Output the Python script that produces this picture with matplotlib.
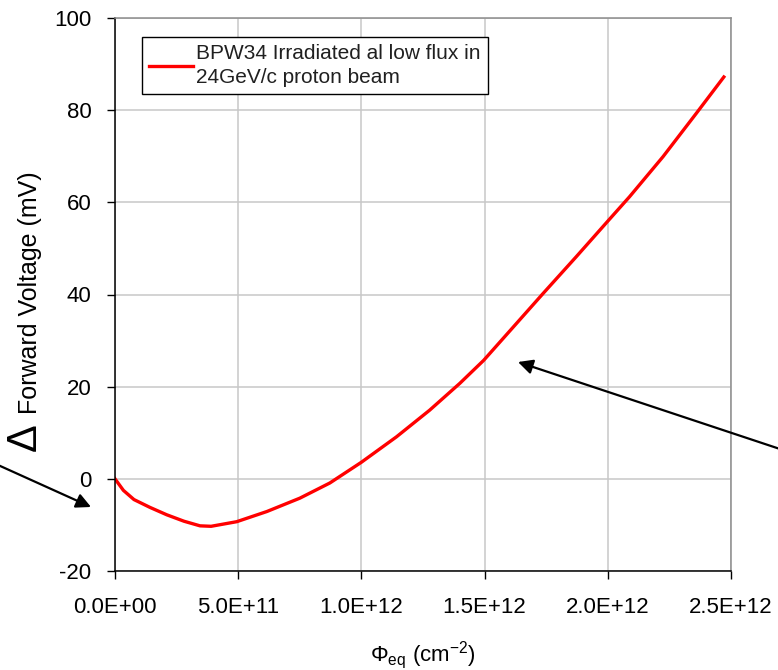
import numpy as np
import matplotlib.pyplot as plt
from matplotlib.ticker import FuncFormatter, MultipleLocator

plt.rcParams['font.family'] = ['Liberation Sans', 'DejaVu Sans']
plt.rcParams['mathtext.fontset'] = 'custom'
plt.rcParams['mathtext.rm'] = 'Liberation Sans'
plt.rcParams['mathtext.it'] = 'Liberation Sans'

# fluence (cm^-2) and forward voltage shift (mV)
fluence = np.array([0.0, 0.34e11, 0.77e11, 1.42e11, 2.1e11, 2.8e11, 3.45e11, 3.9e11,
                    4.94e11, 6.16e11, 7.5e11, 8.72e11, 10.0e11, 11.42e11, 12.77e11,
                    13.99e11, 14.96e11, 16.29e11, 17.37e11, 18.72e11, 19.98e11,
                    20.88e11, 22.24e11, 23.59e11, 24.71e11])
dv = np.array([0.0, -2.5, -4.5, -6.2, -7.8, -9.2, -10.2, -10.3,
               -9.3, -7.1, -4.2, -0.9, 3.6, 9.1, 14.9,
               20.7, 25.7, 33.7, 40.2, 48.2, 55.8,
               61.2, 69.9, 79.3, 87.2])
legend_label = 'BPW34 Irradiated al low flux in\n24GeV/c proton beam'

W, H = 778, 670
fig = plt.figure(figsize=(W / 100, H / 100), dpi=100)
ax = fig.add_axes([115 / W, 99 / H, 616 / W, 553 / H])

ax.plot(fluence, dv, color='#ff0000', lw=2.4, label=legend_label,
        solid_joinstyle='round')

ax.set_xlim(0, 2.5e12)
ax.set_ylim(-20, 100)
ax.xaxis.set_major_locator(MultipleLocator(0.5e12))
ax.yaxis.set_major_locator(MultipleLocator(20))
ax.xaxis.set_major_formatter(FuncFormatter(lambda v, p: f'{v:.1E}'))
ax.yaxis.set_major_formatter(FuncFormatter(lambda v, p: f'{v:.0f}'))
ax.grid(True, color='#c8c8c8', lw=1.1)
ax.set_axisbelow(True)
ax.tick_params(axis='both', direction='out', length=6, width=1, labelsize=16)
ax.tick_params(axis='x', pad=13)
ax.tick_params(axis='y', pad=11)
ax.tick_params(top=False, right=False)
for s in ['left', 'bottom']:
    ax.spines[s].set_color('black')
    ax.spines[s].set_linewidth(1.1)
for s in ['top', 'right']:
    ax.spines[s].set_color('#8c8c8c')
    ax.spines[s].set_linewidth(1.1)

leg = ax.legend(loc='upper left', bbox_to_anchor=(27 / 616, 534 / 553),
                borderaxespad=0, fontsize=15, frameon=True, fancybox=False,
                edgecolor='black', framealpha=1, handlelength=2.1,
                handletextpad=0.15, borderpad=0.35)
leg.get_frame().set_linewidth(1.0)
for t in leg.get_texts():
    t.set_color('#202020')
    t.set_linespacing(1.3)

# axis titles
fig.text(30 / W, 1 - 293 / H, 'Forward Voltage (mV)', rotation=90,
         ha='center', va='center', fontsize=18)
fig.text(25 / W, 1 - 437 / H, '\u0394', rotation=90,
         ha='center', va='center', fontsize=30)
fig.text(423 / W, 1 - 655 / H, r'$\Phi_{\rm eq}$ (cm$^{-2}$)',
         ha='center', va='center', fontsize=16)

# pointer arrows
arrow_kw = dict(arrowstyle='-|>', color='black', lw=1.6, mutation_scale=22,
                shrinkA=0, shrinkB=0)
ax.annotate('', xy=(91 / W, 1 - 507 / H), xycoords='figure fraction',
            xytext=(-2 / W, 1 - 465 / H), textcoords='figure fraction',
            arrowprops=arrow_kw, annotation_clip=False)
ax.annotate('', xy=(518 / W, 1 - 362 / H), xycoords='figure fraction',
            xytext=(780 / W, 1 - 449 / H), textcoords='figure fraction',
            arrowprops=arrow_kw, annotation_clip=False)

fig.savefig('out.png', dpi=100)
